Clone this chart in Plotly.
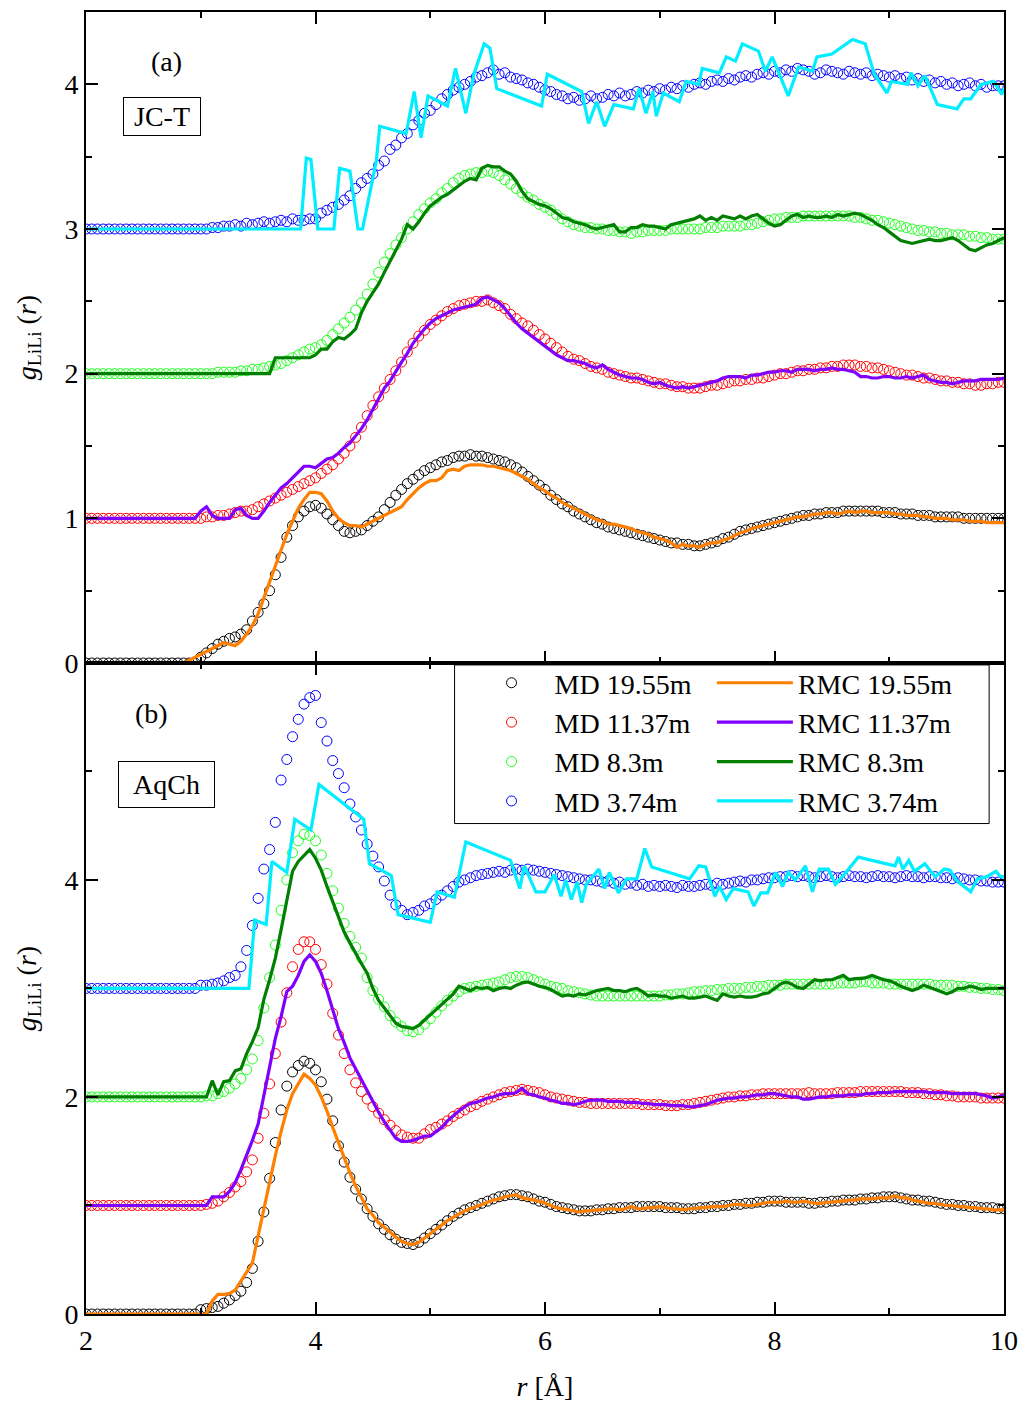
import plotly.graph_objects as go
from plotly.subplots import make_subplots

# ---------------- data ----------------
R0, DR = 2.0, 0.05   # MD / RMC sampling grid start and step (Angstrom)

labels = ["19.55m", "11.37m", "8.3m", "3.74m"]
offsets = [0, 1, 2, 3]

# ---- panel (a) JC-T : raw g_LiLi(r) on grid 2.00..10.00 step 0.05 ----
jct_md_1955 = [
 0,0,0,0,0,0,0,0,0,0,0,0,0,0,0,0,0,0,0,0,
 0.04,0.07,0.10,0.13,0.15,0.17,0.18,0.20,0.23,0.29,0.35,0.41,0.50,0.61,0.73,0.87,0.95,1.01,1.05,1.08,
 1.09,1.07,1.03,0.99,0.95,0.91,0.90,0.91,0.92,0.95,0.98,1.01,1.06,1.11,1.16,1.20,1.24,1.27,1.30,1.33,
 1.35,1.37,1.39,1.40,1.42,1.43,1.43,1.44,1.43,1.43,1.42,1.41,1.40,1.39,1.37,1.35,1.32,1.29,1.26,1.23,
 1.20,1.16,1.13,1.10,1.08,1.05,1.03,1.01,0.99,0.97,0.96,0.94,0.93,0.92,0.91,0.90,0.89,0.88,0.87,0.86,
 0.85,0.84,0.83,0.83,0.82,0.82,0.81,0.81,0.82,0.83,0.84,0.86,0.87,0.89,0.91,0.92,0.93,0.94,0.95,0.96,
 0.97,0.98,0.99,1.00,1.01,1.02,1.02,1.03,1.03,1.04,1.04,1.04,1.05,1.05,1.05,1.05,1.05,1.05,1.05,1.04,
 1.04,1.04,1.03,1.03,1.03,1.02,1.02,1.02,1.01,1.01,1.01,1.01,1.01,1.00,1.00,1.00,1.00,1.00,1.00,1.00,
 1.00]
jct_rmc_1955 = [
 0,0,0,0,0,0,0,0,0,0,0,0,0,0,0,0,0,0,0.02,0.04,
 0.06,0.08,0.10,0.12,0.14,0.13,0.12,0.15,0.20,0.26,0.34,0.45,0.56,0.68,0.79,0.89,0.98,1.07,1.13,1.18,
 1.18,1.17,1.12,1.05,1.00,0.97,0.95,0.95,0.94,0.96,0.98,1.00,1.02,1.04,1.06,1.08,1.13,1.17,1.21,1.24,
 1.26,1.26,1.28,1.33,1.34,1.33,1.36,1.37,1.37,1.37,1.36,1.36,1.35,1.34,1.33,1.31,1.29,1.27,1.24,1.21,
 1.19,1.16,1.14,1.11,1.09,1.07,1.05,1.03,1.01,0.99,0.98,0.96,0.96,0.95,0.94,0.93,0.91,0.90,0.89,0.87,
 0.86,0.85,0.83,0.80,0.82,0.81,0.81,0.80,0.82,0.83,0.83,0.85,0.86,0.88,0.90,0.91,0.93,0.94,0.95,0.96,
 0.97,0.98,0.99,1.00,1.01,1.01,1.02,1.03,1.03,1.04,1.04,1.03,1.04,1.05,1.04,1.05,1.05,1.04,1.04,1.04,
 1.04,1.03,1.03,1.02,1.02,1.02,1.01,1.01,1.00,1.00,1.00,0.99,0.99,0.99,0.98,0.98,0.98,0.97,0.97,0.97,
 0.97]
jct_md_1137 = [
 0,0,0,0,0,0,0,0,0,0,0,0,0,0,0,0,0,0,0,0,
 0.00,0.01,0.01,0.02,0.02,0.03,0.04,0.05,0.05,0.06,0.08,0.10,0.12,0.14,0.16,0.18,0.20,0.22,0.24,0.26,
 0.28,0.31,0.34,0.37,0.41,0.45,0.50,0.56,0.63,0.71,0.78,0.84,0.90,0.96,1.02,1.08,1.15,1.21,1.26,1.30,
 1.34,1.37,1.40,1.43,1.45,1.47,1.48,1.49,1.50,1.50,1.51,1.49,1.47,1.45,1.41,1.38,1.35,1.33,1.30,1.27,
 1.24,1.21,1.18,1.15,1.12,1.10,1.09,1.07,1.05,1.04,1.03,1.01,1.00,0.99,0.98,0.97,0.97,0.96,0.95,0.94,
 0.93,0.93,0.92,0.91,0.91,0.90,0.90,0.90,0.91,0.92,0.92,0.93,0.94,0.95,0.95,0.96,0.96,0.97,0.97,0.98,
 0.99,1.00,1.00,1.01,1.02,1.02,1.03,1.03,1.04,1.04,1.05,1.05,1.06,1.06,1.06,1.05,1.05,1.04,1.04,1.03,
 1.02,1.01,1.00,0.99,0.99,0.98,0.97,0.97,0.96,0.95,0.95,0.94,0.94,0.93,0.93,0.92,0.92,0.93,0.93,0.94,
 0.94]
jct_rmc_1137 = [
 0,0,0,0,0,0,0,0,0,0,0,0,0,0,0,0,0,0,0,0,
 0.05,0.08,0.02,0.00,0.00,0.00,0.06,0.07,0.02,0.00,0.00,0.05,0.11,0.16,0.21,0.24,0.28,0.32,0.36,0.36,
 0.35,0.38,0.41,0.42,0.45,0.49,0.52,0.57,0.62,0.68,0.75,0.83,0.90,0.95,1.02,1.08,1.14,1.21,1.26,1.31,
 1.35,1.38,1.40,1.42,1.44,1.45,1.46,1.47,1.48,1.52,1.53,1.51,1.49,1.45,1.40,1.35,1.31,1.28,1.25,1.22,
 1.19,1.16,1.13,1.11,1.09,1.09,1.08,1.07,1.05,1.04,1.06,1.03,1.01,0.99,0.98,0.97,0.97,0.96,0.94,0.93,
 0.94,0.92,0.91,0.90,0.91,0.90,0.91,0.92,0.93,0.94,0.95,0.97,0.98,0.98,0.98,0.97,0.99,0.99,1.00,1.01,
 1.01,1.02,1.02,1.01,1.03,1.03,1.03,1.02,1.03,1.03,1.04,1.03,1.03,1.02,1.01,0.98,0.98,0.97,0.97,0.98,
 0.98,0.97,0.97,0.98,0.97,0.98,0.99,0.96,0.95,0.94,0.94,0.93,0.94,0.95,0.95,0.95,0.96,0.96,0.96,0.96,
 0.97]
jct_md_83 = [
 0,0,0,0,0,0,0,0,0,0,0,0,0,0,0,0,0,0,0,0,
 0.00,0.00,0.00,0.01,0.01,0.01,0.01,0.02,0.02,0.03,0.03,0.04,0.05,0.06,0.07,0.09,0.11,0.13,0.15,0.17,
 0.18,0.20,0.23,0.27,0.31,0.35,0.39,0.44,0.49,0.55,0.62,0.70,0.77,0.83,0.89,0.94,1.00,1.05,1.10,1.14,
 1.18,1.21,1.25,1.28,1.32,1.35,1.37,1.38,1.39,1.39,1.40,1.39,1.37,1.34,1.31,1.28,1.25,1.22,1.20,1.17,
 1.15,1.13,1.10,1.07,1.05,1.03,1.02,1.01,1.01,1.00,1.00,0.99,0.99,0.98,0.98,0.97,0.98,0.98,0.99,0.99,
 0.99,0.99,1.00,1.00,1.00,1.00,1.00,1.00,1.01,1.01,1.01,1.02,1.02,1.02,1.02,1.03,1.03,1.04,1.05,1.06,
 1.07,1.07,1.08,1.08,1.08,1.09,1.09,1.09,1.09,1.09,1.09,1.09,1.09,1.09,1.08,1.08,1.07,1.06,1.06,1.05,
 1.04,1.03,1.02,1.01,1.00,0.99,0.99,0.98,0.98,0.97,0.97,0.96,0.96,0.96,0.95,0.95,0.94,0.94,0.93,0.93,
 0.93]
jct_rmc_83 = [
 0,0,0,0,0,0,0,0,0,0,0,0,0,0,0,0,0,0,0,0,
 0,0,0,0,0,0,0,0,0,0,0,0,0,0.11,0.11,0.11,0.11,0.11,0.11,0.11,
 0.13,0.17,0.17,0.22,0.25,0.24,0.27,0.31,0.42,0.50,0.56,0.62,0.70,0.78,0.85,0.93,1.03,1.00,1.05,1.11,
 1.16,1.19,1.22,1.24,1.27,1.30,1.33,1.35,1.34,1.42,1.44,1.43,1.43,1.40,1.38,1.33,1.26,1.21,1.19,1.17,
 1.16,1.14,1.11,1.08,1.07,1.05,1.04,1.03,1.01,1.00,1.01,1.02,1.03,0.98,0.98,1.01,1.01,1.03,1.02,1.02,
 1.01,1.00,1.03,1.04,1.05,1.06,1.07,1.09,1.06,1.08,1.06,1.09,1.08,1.07,1.09,1.07,1.09,1.10,1.07,1.04,
 1.02,1.03,1.06,1.09,1.10,1.08,1.09,1.08,1.08,1.09,1.08,1.10,1.09,1.10,1.11,1.10,1.08,1.06,1.03,1.01,
 0.98,0.95,0.92,0.91,0.90,0.91,0.92,0.93,0.92,0.92,0.93,0.94,0.92,0.89,0.86,0.85,0.87,0.89,0.90,0.92,
 0.94]
jct_md_374 = [
 0,0,0,0,0,0,0,0,0,0,0,0,0,0,0,0,0,0,0,0,
 0.00,0.00,0.01,0.01,0.02,0.02,0.03,0.02,0.04,0.03,0.04,0.05,0.04,0.05,0.06,0.05,0.07,0.06,0.06,0.07,
 0.07,0.11,0.13,0.15,0.17,0.20,0.23,0.28,0.32,0.35,0.38,0.44,0.47,0.55,0.58,0.63,0.66,0.72,0.75,0.80,
 0.82,0.86,0.90,0.93,0.96,0.98,1.00,1.02,1.05,1.06,1.08,1.10,1.07,1.08,1.05,1.04,1.03,1.01,1.00,0.98,
 0.96,0.95,0.93,0.92,0.90,0.91,0.89,0.90,0.92,0.90,0.91,0.93,0.92,0.94,0.92,0.93,0.95,0.94,0.96,0.95,
 0.97,0.96,0.98,0.97,0.99,0.98,1.00,1.01,1.00,1.02,1.03,1.02,1.04,1.03,1.05,1.06,1.05,1.07,1.08,1.07,
 1.09,1.08,1.10,1.09,1.11,1.10,1.09,1.07,1.08,1.10,1.09,1.08,1.07,1.09,1.08,1.07,1.08,1.06,1.07,1.06,
 1.05,1.06,1.04,1.05,1.03,1.04,1.02,1.03,1.01,1.02,1.00,1.01,0.99,1.00,1.01,0.99,1.00,0.98,0.99,0.99,
 0.99]
jct_rmc_374_r = [2.00, 3.87, 3.92, 3.96, 4.02, 4.16, 4.21, 4.30, 4.37, 4.41,
                 4.53, 4.56, 4.79, 4.86, 4.92, 4.98, 5.15, 5.22, 5.31, 5.38,
                 5.47, 5.52, 5.58, 5.97, 6.02, 6.32, 6.38, 6.45, 6.52, 6.60,
                 6.77, 6.82, 6.88, 6.94, 6.97, 7.03, 7.17, 7.23, 7.34, 7.37,
                 7.52, 7.58, 7.66, 7.72, 7.86, 7.92, 7.98, 8.12, 8.21, 8.33,
                 8.37, 8.50, 8.68, 8.79, 8.87, 8.98, 9.02, 9.16, 9.19, 9.25,
                 9.31, 9.42, 9.59, 9.65, 9.71, 9.80, 9.91, 9.98, 10.00]
jct_rmc_374 =   [0.00, 0.00, 0.49, 0.48, 0.00, 0.00, 0.42, 0.40, 0.00, 0.00,
                 0.47, 0.71, 0.66, 0.95, 0.63, 0.92, 0.85, 1.11, 0.80, 1.07,
                 1.28, 1.25, 0.97, 0.85, 1.07, 0.95, 0.73, 0.88, 0.71, 0.86,
                 0.83, 0.97, 0.80, 0.95, 0.78, 0.94, 0.88, 1.02, 1.00, 1.11,
                 1.08, 1.19, 1.16, 1.28, 1.23, 1.09, 1.19, 0.92, 1.12, 1.09,
                 1.19, 1.21, 1.31, 1.28, 1.07, 0.94, 1.02, 1.00, 1.08, 0.99,
                 1.06, 0.86, 0.83, 0.90, 0.90, 1.00, 1.02, 0.93, 0.97]

# ---- panel (b) AqCh ----
aq_md_1955 = [
 0,0,0,0,0,0,0,0,0,0,0,0,0,0,0,0,0,0,0,0,
 0.04,0.05,0.06,0.07,0.10,0.13,0.17,0.21,0.29,0.42,0.67,0.94,1.25,1.58,1.88,2.10,2.23,2.29,2.33,2.31,
 2.25,2.14,1.98,1.78,1.55,1.40,1.26,1.15,1.06,0.97,0.90,0.83,0.78,0.73,0.69,0.66,0.65,0.64,0.66,0.70,
 0.74,0.78,0.82,0.86,0.90,0.93,0.96,0.98,1.00,1.02,1.04,1.06,1.08,1.09,1.10,1.10,1.09,1.08,1.06,1.04,
 1.03,1.01,0.99,0.98,0.97,0.96,0.95,0.95,0.95,0.96,0.96,0.97,0.97,0.98,0.98,0.98,0.99,0.99,0.99,0.99,
 0.99,0.98,0.98,0.98,0.97,0.97,0.97,0.98,0.98,0.99,0.99,1.00,1.00,1.01,1.01,1.02,1.02,1.03,1.03,1.04,
 1.04,1.04,1.03,1.03,1.03,1.03,1.02,1.02,1.03,1.03,1.04,1.04,1.05,1.05,1.05,1.06,1.06,1.07,1.07,1.08,
 1.08,1.08,1.07,1.06,1.05,1.05,1.04,1.04,1.03,1.02,1.01,1.01,1.00,1.00,0.99,0.99,0.98,0.98,0.98,0.97,
 0.97]
aq_rmc_1955 = [
 0,0,0,0,0,0,0,0,0,0,0,0,0,0,0,0,0,0,0,0,
 0.00,0.00,0.12,0.18,0.18,0.19,0.22,0.30,0.38,0.47,0.72,0.97,1.22,1.46,1.68,1.88,2.03,2.12,2.21,2.17,
 2.11,2.00,1.87,1.72,1.58,1.43,1.30,1.18,1.08,0.97,0.91,0.84,0.80,0.75,0.71,0.67,0.65,0.64,0.66,0.70,
 0.74,0.78,0.82,0.86,0.89,0.92,0.95,0.97,0.99,1.01,1.03,1.05,1.06,1.08,1.09,1.10,1.07,1.06,1.05,1.04,
 1.02,1.00,0.98,0.97,0.96,0.95,0.94,0.95,0.95,0.96,0.96,0.97,0.97,0.96,0.97,0.99,0.97,0.97,0.98,0.98,
 0.99,0.98,0.97,0.97,0.96,0.97,0.97,0.98,0.98,0.99,0.99,0.99,1.00,1.01,1.01,1.00,1.00,1.01,1.02,1.03,
 1.03,1.03,1.04,1.03,1.03,1.04,1.03,1.02,1.02,1.03,1.03,1.04,1.04,1.05,1.05,1.06,1.06,1.06,1.07,1.07,
 1.07,1.09,1.07,1.07,1.05,1.04,1.03,1.02,1.02,1.01,1.00,1.00,0.99,0.99,0.98,0.98,0.97,0.97,0.96,0.96,
 0.96]
aq_md_1137 = [
 0,0,0,0,0,0,0,0,0,0,0,0,0,0,0,0,0,0,0,0,
 0.00,0.01,0.02,0.04,0.08,0.12,0.17,0.22,0.31,0.42,0.62,0.85,1.12,1.40,1.69,1.96,2.20,2.36,2.43,2.43,
 2.36,2.22,2.04,1.77,1.57,1.40,1.25,1.13,1.05,0.98,0.91,0.85,0.79,0.74,0.69,0.65,0.63,0.62,0.62,0.66,
 0.70,0.72,0.75,0.78,0.82,0.85,0.88,0.91,0.93,0.96,0.98,1.00,1.02,1.04,1.05,1.06,1.07,1.06,1.05,1.04,
 1.02,1.00,0.99,0.98,0.97,0.96,0.95,0.95,0.94,0.94,0.94,0.94,0.94,0.94,0.94,0.94,0.94,0.93,0.93,0.93,
 0.93,0.92,0.92,0.92,0.93,0.93,0.94,0.95,0.96,0.97,0.98,0.99,1.00,1.00,1.01,1.01,1.02,1.02,1.03,1.03,
 1.03,1.03,1.03,1.03,1.03,1.03,1.04,1.03,1.03,1.03,1.03,1.04,1.04,1.04,1.04,1.05,1.05,1.05,1.05,1.05,
 1.05,1.05,1.05,1.04,1.04,1.04,1.03,1.03,1.02,1.02,1.01,1.01,1.00,1.00,1.00,1.00,0.99,0.99,0.99,0.99,
 0.99]
aq_rmc_1137 = [
 0,0,0,0,0,0,0,0,0,0,0,0,0,0,0,0,0,0,0,0,
 0.00,0.00,0.08,0.08,0.08,0.13,0.21,0.33,0.46,0.60,0.75,1.01,1.28,1.54,1.74,1.97,2.02,2.12,2.25,2.31,
 2.25,2.14,1.98,1.80,1.63,1.50,1.36,1.26,1.16,1.05,0.95,0.86,0.77,0.70,0.62,0.59,0.59,0.60,0.62,0.64,
 0.64,0.68,0.72,0.78,0.83,0.87,0.91,0.94,0.95,0.97,0.99,1.00,1.02,1.03,1.03,1.04,1.08,1.03,1.02,1.00,
 0.99,0.97,0.96,0.94,0.94,0.93,0.94,0.96,0.97,0.97,0.97,0.96,0.96,0.96,0.95,0.95,0.95,0.94,0.94,0.93,
 0.93,0.93,0.92,0.92,0.92,0.91,0.91,0.92,0.93,0.95,0.97,0.98,0.99,0.99,1.00,1.00,1.01,1.02,1.02,1.03,
 1.03,1.02,1.01,1.00,1.00,0.98,0.98,0.99,1.00,1.00,1.01,1.01,1.01,1.02,1.02,1.02,1.03,1.03,1.04,1.04,
 1.04,1.05,1.05,1.05,1.05,1.05,1.05,1.04,1.04,1.04,1.04,1.03,1.03,1.03,1.03,1.03,1.02,1.01,0.99,1.00,
 1.02]
aq_md_83 = [
 0,0,0,0,0,0,0,0,0,0,0,0,0,0,0,0,0,0,0,0,
 0.00,0.01,0.01,0.03,0.05,0.08,0.12,0.17,0.25,0.35,0.52,0.82,1.10,1.40,1.72,2.00,2.25,2.36,2.42,2.41,
 2.36,2.23,2.06,1.90,1.74,1.60,1.48,1.38,1.28,1.10,0.98,0.90,0.83,0.75,0.69,0.65,0.61,0.60,0.62,0.67,
 0.72,0.78,0.84,0.89,0.93,0.97,1.00,1.01,1.02,1.03,1.04,1.05,1.06,1.08,1.10,1.11,1.11,1.10,1.08,1.06,
 1.04,1.02,1.01,1.00,0.98,0.97,0.96,0.95,0.94,0.93,0.93,0.93,0.93,0.93,0.93,0.93,0.93,0.93,0.93,0.93,
 0.93,0.94,0.94,0.95,0.95,0.96,0.97,0.97,0.98,0.98,0.99,0.99,1.00,1.00,1.00,1.01,1.01,1.02,1.02,1.03,
 1.03,1.03,1.04,1.04,1.04,1.04,1.04,1.04,1.04,1.04,1.04,1.05,1.05,1.05,1.05,1.06,1.06,1.05,1.05,1.05,
 1.04,1.04,1.04,1.04,1.04,1.04,1.04,1.04,1.03,1.03,1.03,1.03,1.02,1.02,1.01,1.01,1.00,1.00,0.99,0.99,
 0.98]
aq_rmc_83 = [
 0,0,0,0,0,0,0,0,0,0,0,0,0,0,0,0,0,0,0,0,
 0.00,0.00,0.15,0.02,0.14,0.15,0.24,0.26,0.40,0.51,0.64,0.90,1.08,1.28,1.54,1.80,2.08,2.17,2.22,2.28,
 2.20,2.09,1.94,1.80,1.66,1.52,1.42,1.32,1.23,1.14,1.00,0.89,0.82,0.75,0.68,0.65,0.64,0.63,0.66,0.71,
 0.75,0.80,0.85,0.90,0.95,1.02,1.00,0.98,1.01,1.00,1.01,0.98,1.00,1.01,1.00,1.03,1.05,1.06,1.04,1.02,
 1.01,0.99,0.96,0.93,0.94,0.93,0.95,0.94,0.96,0.98,0.99,1.00,0.98,0.98,0.97,0.99,1.00,0.97,0.93,0.94,
 0.93,0.93,0.91,0.92,0.93,0.91,0.91,0.92,0.93,0.91,0.89,0.95,0.93,0.92,0.93,0.92,0.92,0.93,0.95,0.96,
 1.00,1.04,1.06,1.04,1.01,1.00,1.04,1.08,1.07,1.08,1.08,1.10,1.12,1.08,1.09,1.09,1.10,1.12,1.10,1.08,
 1.07,1.05,1.02,1.00,0.98,1.00,1.03,1.01,0.99,0.97,0.95,0.97,1.00,1.00,1.02,1.01,0.99,1.00,1.00,1.00,
 1.00]
aq_md_374 = [
 0,0,0,0,0,0,0,0,0,0,0,0,0,0,0,0,0,0,0,0,
 0.03,0.03,0.04,0.05,0.07,0.10,0.12,0.20,0.35,0.58,0.83,1.10,1.28,1.53,1.92,2.11,2.32,2.48,2.62,2.68,
 2.70,2.45,2.28,2.10,1.98,1.85,1.70,1.58,1.46,1.33,1.22,1.12,0.99,0.86,0.77,0.72,0.68,0.70,0.72,0.76,
 0.78,0.82,0.86,0.90,0.94,0.98,1.00,1.02,1.04,1.05,1.06,1.07,1.08,1.07,1.09,1.10,1.09,1.10,1.09,1.08,
 1.07,1.06,1.05,1.04,1.03,1.02,1.01,1.00,1.00,0.99,0.98,0.99,0.97,0.98,0.96,0.97,0.95,0.96,0.94,0.95,
 0.94,0.95,0.94,0.93,0.95,0.94,0.94,0.95,0.96,0.95,0.97,0.96,0.97,0.98,0.99,0.98,1.00,1.00,1.01,1.02,
 1.02,1.03,1.03,1.04,1.03,1.04,1.03,1.02,1.03,1.04,1.03,1.02,1.03,1.04,1.03,1.03,1.02,1.03,1.04,1.03,
 1.03,1.02,1.03,1.04,1.03,1.03,1.02,1.03,1.03,1.02,1.02,1.01,1.02,1.01,1.00,1.00,0.99,0.99,0.98,0.98,
 0.98]
aq_rmc_374_r = [2.00, 3.42, 3.47, 3.57, 3.62, 3.75, 3.82, 3.96, 4.03, 4.42,
                4.47, 4.66, 4.72, 5.00, 5.06, 5.21, 5.31, 5.70, 5.78, 5.82,
                5.92, 6.00, 6.08, 6.14, 6.18, 6.23, 6.28, 6.32, 6.36, 6.47,
                6.52, 6.56, 6.64, 6.71, 6.80, 6.87, 6.93, 7.26, 7.34, 7.40,
                7.48, 7.52, 7.58, 7.64, 7.77, 7.82, 7.88, 7.94, 8.01, 8.07,
                8.12, 8.18, 8.27, 8.33, 8.39, 8.47, 8.53, 8.60, 8.73, 9.05,
                9.08, 9.12, 9.17, 9.22, 9.31, 9.40, 9.48, 9.53, 9.59, 9.71,
                9.77, 9.85, 9.93, 9.97, 10.00]
aq_rmc_374 =   [0.00, 0.00, 0.63, 0.59, 1.17, 1.07, 1.56, 1.46, 1.88, 1.56,
                1.15, 1.04, 0.68, 0.61, 0.89, 0.84, 1.35, 1.18, 0.92, 1.13,
                0.89, 0.89, 1.05, 0.85, 1.00, 0.82, 0.98, 0.79, 0.96, 1.10,
                0.92, 1.07, 0.88, 1.01, 1.01, 1.29, 1.12, 1.01, 1.13, 1.12,
                0.85, 0.94, 0.82, 0.92, 0.89, 0.76, 0.88, 0.88, 1.07, 0.94,
                1.07, 1.00, 1.13, 0.89, 1.10, 1.10, 0.96, 1.04, 1.21, 1.13,
                1.21, 1.10, 1.18, 1.08, 1.15, 1.03, 1.10, 1.09, 0.99, 0.89,
                1.01, 1.03, 1.08, 1.03, 1.03]

# ---------------- styling ----------------
md_colors = ["#000000", "#FF0000", "#1EFF1E", "#0000FF"]
rmc_colors = ["#FF7F00", "#7F00FF", "#007F00", "#00EEFF"]
FONT = "Liberation Serif"


def r_grid(vals):
    return [round(R0 + DR * i, 2) for i in range(len(vals))]


panels = [
    dict(md=[jct_md_1955, jct_md_1137, jct_md_83, jct_md_374],
         rmc=[(r_grid(jct_rmc_1955), jct_rmc_1955), (r_grid(jct_rmc_1137), jct_rmc_1137),
              (r_grid(jct_rmc_83), jct_rmc_83), (jct_rmc_374_r, jct_rmc_374)]),
    dict(md=[aq_md_1955, aq_md_1137, aq_md_83, aq_md_374],
         rmc=[(r_grid(aq_rmc_1955), aq_rmc_1955), (r_grid(aq_rmc_1137), aq_rmc_1137),
              (r_grid(aq_rmc_83), aq_rmc_83), (aq_rmc_374_r, aq_rmc_374)]),
]

fig = make_subplots(rows=2, cols=1, shared_xaxes=True, vertical_spacing=0)

for p, panel in enumerate(panels):
    row = p + 1
    show = (row == 2)
    for i, vals in enumerate(panel["md"]):
        fig.add_trace(go.Scatter(
            x=r_grid(vals), y=[v + offsets[i] for v in vals], mode="markers",
            name="MD " + labels[i], legend="legend", showlegend=show,
            marker=dict(symbol="circle-open", size=10, color=md_colors[i],
                        line=dict(width=1, color=md_colors[i]))), row=row, col=1)
    for i, (rx, vals) in enumerate(panel["rmc"]):
        fig.add_trace(go.Scatter(
            x=rx, y=[v + offsets[i] for v in vals], mode="lines",
            name="RMC " + labels[i], legend="legend2", showlegend=show,
            line=dict(width=3.2, color=rmc_colors[i])), row=row, col=1)

axis_common = dict(showline=True, linewidth=2, linecolor="black", mirror="ticks",
                   ticks="inside", ticklen=12, tickwidth=2, tickcolor="black",
                   showgrid=False, zeroline=False,
                   tickfont=dict(family=FONT, size=28, color="black"))

fig.update_xaxes(range=[2, 10], dtick=2, tick0=2,
                 minor=dict(ticks="inside", dtick=1, tick0=2, ticklen=6, tickwidth=2, tickcolor="black"),
                 **axis_common)
fig.update_xaxes(showticklabels=False, row=1, col=1)
fig.update_xaxes(title=dict(text="<i>r</i> [Å]", font=dict(family=FONT, size=28, color="black"), standoff=22),
                 row=2, col=1)

ytitle = "<i>g</i><sub>LiLi</sub> (<i>r</i>)"
fig.update_yaxes(range=[0, 4.5], dtick=1, tick0=0,
                 minor=dict(ticks="inside", dtick=0.5, tick0=0, ticklen=6, tickwidth=2, tickcolor="black"),
                 title=dict(text=ytitle, font=dict(family=FONT, size=28, color="black"), standoff=20),
                 row=1, col=1, **axis_common)
fig.update_yaxes(range=[0, 5.999], dtick=2, tick0=0,
                 minor=dict(ticks="inside", dtick=1, tick0=0, ticklen=6, tickwidth=2, tickcolor="black"),
                 title=dict(text=ytitle, font=dict(family=FONT, size=28, color="black"), standoff=20),
                 row=2, col=1, **axis_common)

legend_common = dict(font=dict(family=FONT, size=28, color="black"), bgcolor="rgba(0,0,0,0)",
                     borderwidth=0, xanchor="left", yanchor="top", tracegroupgap=0,
                     orientation="v")
fig.update_layout(
    legend=dict(x=0.4167, y=0.5038, itemwidth=76, **legend_common),
    legend2=dict(x=0.6818, y=0.5038, itemwidth=76, **legend_common),
)

fig.add_shape(type="rect", xref="paper", yref="paper",
              x0=0.4015, x1=0.9838, y0=0.3767, y1=0.4985,
              line=dict(color="black", width=1), fillcolor="white", layer="above")

ann_font = dict(family=FONT, size=28, color="black")
fig.add_annotation(x=2.70, y=4.159, xref="x", yref="y", text="(a)", showarrow=False, font=ann_font)
fig.add_annotation(x=2.658, y=3.776, xref="x", yref="y", text="&nbsp;JC-T&nbsp;", showarrow=False,
                   font=ann_font, bordercolor="black", borderwidth=1, borderpad=3, bgcolor="white")
fig.add_annotation(x=2.571, y=5.536, xref="x2", yref="y2", text="(b)", showarrow=False, font=ann_font)
fig.add_annotation(x=2.70, y=4.883, xref="x2", yref="y2", text="&nbsp;AqCh&nbsp;", showarrow=False,
                   font=ann_font, bordercolor="black", borderwidth=1, borderpad=7, bgcolor="white")

fig.update_layout(
    width=1028, height=1407,
    margin=dict(l=86, r=18, t=10, b=91),
    paper_bgcolor="white", plot_bgcolor="white",
    font=dict(family=FONT, size=28, color="black"),
)

fig.write_html("out.html")
